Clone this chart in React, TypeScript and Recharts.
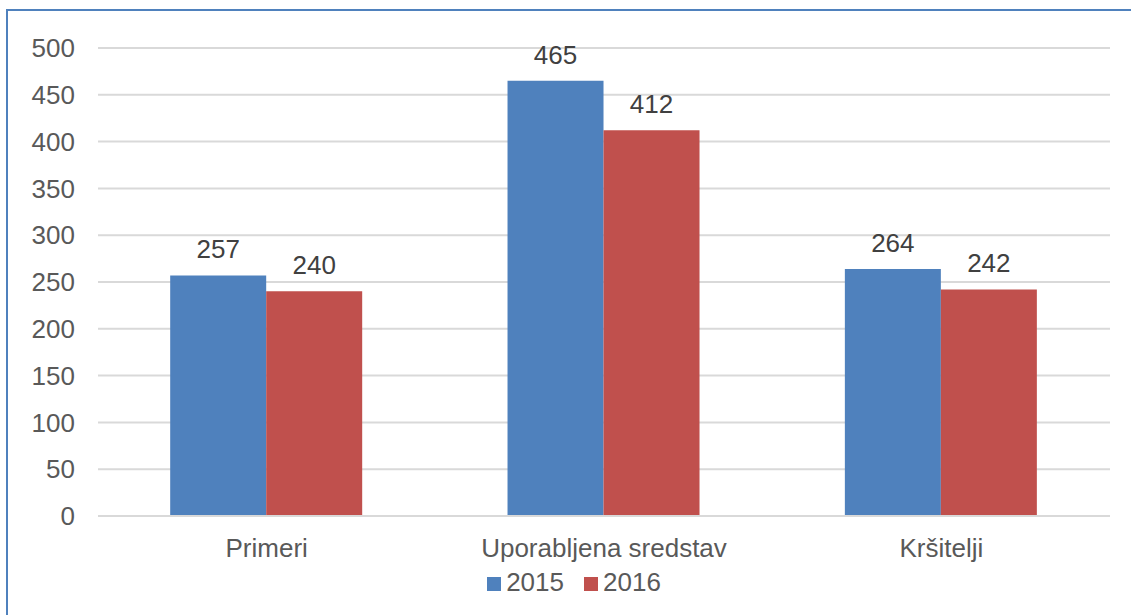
import { BarChart, Bar, XAxis, YAxis, CartesianGrid, Legend, LabelList } from 'recharts';

const categories = ['Primeri', 'Uporabljena sredstav', 'Kršitelji'];
const values2015 = [257, 465, 264];
const values2016 = [240, 412, 242];
const yTicks = [0, 50, 100, 150, 200, 250, 300, 350, 400, 450, 500];
const seriesNames = ['2015', '2016'];
const seriesColors = ['#4F81BD', '#C0504D'];

const data = categories.map((name, i) => ({
  name,
  y2015: values2015[i],
  y2016: values2016[i],
}));

const font = '"Liberation Sans", Arial, sans-serif';

function LegendBox() {
  return (
    <div
      style={{
        display: 'flex',
        justifyContent: 'center',
        alignItems: 'center',
        height: 30,
        paddingTop: 3,
        boxSizing: 'border-box',
        fontSize: 26,
        fontFamily: font,
        color: '#595959',
      }}
    >
      {seriesNames.map((s, i) => (
        <div key={s} style={{ display: 'flex', alignItems: 'center', marginLeft: i ? 20 : 0 }}>
          <span
            style={{
              width: 14,
              height: 14,
              background: seriesColors[i],
              marginRight: 5,
              marginTop: 3,
              display: 'inline-block',
            }}
          />
          <span>{s}</span>
        </div>
      ))}
    </div>
  );
}

export default function App() {
  return (
    <div
      style={{
        position: 'absolute',
        left: 0,
        top: 0,
        width: 1131,
        height: 615,
        overflow: 'hidden',
        background: '#fff',
        fontFamily: font,
      }}
    >
      <div
        style={{
          position: 'absolute',
          left: 6,
          top: 9,
          width: 1200,
          height: 700,
          borderLeft: '2px solid #4F81BD',
          borderTop: '2px solid #4F81BD',
        }}
      />
      <div style={{ position: 'absolute', left: 0, top: 0 }}>
        <BarChart
          width={1131}
          height={615}
          data={data}
          margin={{ top: 48, right: 21, left: 38, bottom: 19 }}
          barCategoryGap="21.4%"
          barGap={0}
        >
          <CartesianGrid vertical={false} stroke="#D9D9D9" strokeWidth={2} />
          <XAxis
            dataKey="name"
            axisLine={{ stroke: '#D9D9D9', strokeWidth: 2 }}
            tickLine={false}
            height={50}
            tickMargin={17}
            tick={{ fill: '#595959', fontSize: 26, fontFamily: font }}
          />
          <YAxis
            width={60}
            domain={[0, 500]}
            ticks={yTicks}
            axisLine={false}
            tickLine={false}
            tickMargin={17}
            tick={{ fill: '#595959', fontSize: 26, fontFamily: font }}
          />
          <Legend verticalAlign="bottom" content={() => <LegendBox />} />
          <Bar dataKey="y2015" name="2015" fill="#4F81BD" isAnimationActive={false}>
            <LabelList dataKey="y2015" position="top" offset={17} fill="#404040" fontSize={26} fontFamily={font} />
          </Bar>
          <Bar dataKey="y2016" name="2016" fill="#C0504D" isAnimationActive={false}>
            <LabelList dataKey="y2016" position="top" offset={17} fill="#404040" fontSize={26} fontFamily={font} />
          </Bar>
        </BarChart>
      </div>
    </div>
  );
}
